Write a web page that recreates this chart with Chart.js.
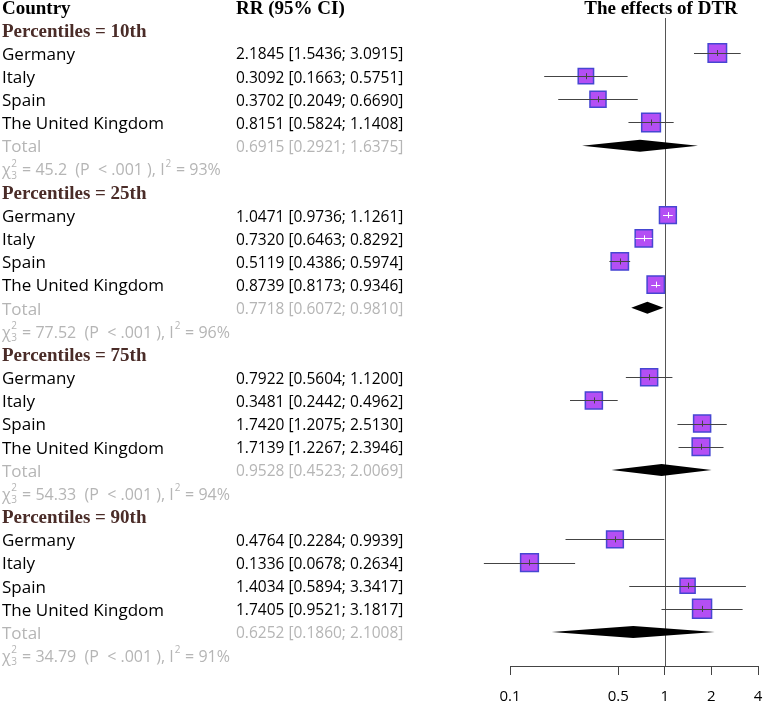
<!DOCTYPE html>
<html>
<head>
<meta charset="utf-8">
<script src="https://cdn.jsdelivr.net/npm/chart.js@4.4.1/dist/chart.umd.min.js"></script>
<style>
  html, body { margin: 0; padding: 0; background: #fff; }
  #wrap { width: 764px; height: 702px; position: relative; }
</style>
</head>
<body>
<div id="wrap"><canvas id="forestChart"></canvas></div>
<script>
const countries = ['Germany', 'Italy', 'Spain', 'The United Kingdom'];
const groups = ['Percentiles = 10th', 'Percentiles = 25th', 'Percentiles = 75th', 'Percentiles = 90th'];

// RR, lower and upper 95% CI, weight (%) per country, one set per percentile
const rr_10 = [2.1845, 0.3092, 0.3702, 0.8151];
const lower_10 = [1.5436, 0.1663, 0.2049, 0.5824];
const upper_10 = [3.0915, 0.5751, 0.6690, 1.1408];
const weight_10 = [28.7, 19.9, 21.8, 29.6];

const rr_25 = [1.0471, 0.7320, 0.5119, 0.8739];
const lower_25 = [0.9736, 0.6463, 0.4386, 0.8173];
const upper_25 = [1.1261, 0.8292, 0.5974, 0.9346];
const weight_25 = [24.0, 25.3, 25.3, 25.3];

const rr_75 = [0.7922, 0.3481, 1.7420, 1.7139];
const lower_75 = [0.5604, 0.2442, 1.2075, 1.2267];
const upper_75 = [1.1200, 0.4962, 2.5130, 2.3946];
const weight_75 = [24.5, 24.5, 24.5, 26.5];

const rr_90 = [0.4764, 0.1336, 1.4034, 1.7405];
const lower_90 = [0.2284, 0.0678, 0.5894, 0.9521];
const upper_90 = [0.9939, 0.2634, 3.3417, 3.1817];
const weight_90 = [23.7, 26.6, 19.2, 30.5];

const total_rr = [0.6915, 0.7718, 0.9528, 0.6252];
const total_lower = [0.2921, 0.6072, 0.4523, 0.1860];
const total_upper = [1.6375, 0.9810, 2.0069, 2.1008];
const chi2 = ['45.2', '77.52', '54.33', '34.79'];
const i2 = [93, 96, 94, 91];

const xTicks = [0.1, 0.5, 1, 2, 4];

const groupData = [
    [rr_10, lower_10, upper_10, weight_10],
    [rr_25, lower_25, upper_25, weight_25],
    [rr_75, lower_75, upper_75, weight_75],
    [rr_90, lower_90, upper_90, weight_90],
];

const fmt = v => v.toFixed(4);

// one entry per text line, row index = position on the y scale
const rows = [{ type: 'header' }];
groups.forEach((g, gi) => {
    const [rr, lo, hi, w] = groupData[gi];
    rows.push({ type: 'group', text: g });
    countries.forEach((c, ci) => {
        rows.push({ type: 'study', text: c, est: rr[ci], lo: lo[ci], hi: hi[ci], w: w[ci] });
    });
    rows.push({ type: 'total', text: 'Total', est: total_rr[gi], lo: total_lower[gi], hi: total_upper[gi] });
    rows.push({ type: 'het', chi: chi2[gi], i2: i2[gi] });
});

const studyPoints = [];
rows.forEach((r, i) => {
    if (r.type === 'study') studyPoints.push({ x: r.est, y: i, lo: r.lo, hi: r.hi, w: r.w });
});
const boxSide = w => 3.44 * Math.sqrt(w);

const SERIF_B = 'bold 19px "Liberation Serif", "Times New Roman", serif';
const SANS = '17px "Open Sans", "Noto Sans", sans-serif';
const NUM = '15.5px "Open Sans", "Noto Sans", sans-serif';
const HET = '16px "Open Sans", "Noto Sans", sans-serif';
const SMALL = '10px "Open Sans", "Noto Sans", sans-serif';
const GREY = '#b5b5b5';

const forestPlugin = {
    id: 'forest',
    beforeDatasetsDraw(chart) {
        const { ctx, scales: { x }, chartArea } = chart;
        const px = x.getPixelForValue(1);
        ctx.save();
        ctx.strokeStyle = '#555';
        ctx.lineWidth = 1;
        ctx.beginPath();
        ctx.moveTo(Math.round(px) + 0.5, 18);
        ctx.lineTo(Math.round(px) + 0.5, chartArea.bottom);
        ctx.stroke();
        ctx.restore();
    },
    afterDatasetsDraw(chart) {
        const { ctx, scales: { x, y } } = chart;
        ctx.save();
        ctx.lineWidth = 1;
        rows.forEach((r, i) => {
            const py = y.getPixelForValue(i);
            if (r.type === 'study') {
                const pe = x.getPixelForValue(r.est);
                const pl = x.getPixelForValue(r.lo);
                const ph = x.getPixelForValue(r.hi);
                const half = boxSide(r.w) / 2;
                const inside = pl > pe - half && ph < pe + half;
                ctx.strokeStyle = inside ? '#ffffff' : '#444444';
                ctx.beginPath();
                ctx.moveTo(pl, Math.round(py) + 0.5);
                ctx.lineTo(ph, Math.round(py) + 0.5);
                ctx.moveTo(Math.round(pe) + 0.5, py - 3);
                ctx.lineTo(Math.round(pe) + 0.5, py + 3);
                ctx.stroke();
            } else if (r.type === 'total') {
                const pe = x.getPixelForValue(r.est);
                const pl = x.getPixelForValue(r.lo);
                const ph = x.getPixelForValue(r.hi);
                ctx.fillStyle = '#000000';
                ctx.beginPath();
                ctx.moveTo(pl, py);
                ctx.lineTo(pe, py - 6);
                ctx.lineTo(ph, py);
                ctx.lineTo(pe, py + 6);
                ctx.closePath();
                ctx.fill();
            }
        });
        ctx.restore();
    },
    afterDraw(chart) {
        const { ctx, scales: { y } } = chart;
        ctx.save();
        ctx.textBaseline = 'middle';
        ctx.textAlign = 'left';
        rows.forEach((r, i) => {
            const py = y.getPixelForValue(i) + 2;
            if (r.type === 'header') {
                ctx.font = SERIF_B;
                ctx.fillStyle = '#000';
                ctx.fillText('Country', 2, py);
                ctx.fillText('RR (95% CI)', 236, py);
                ctx.textAlign = 'center';
                ctx.fillText('The effects of DTR', 661, py);
                ctx.textAlign = 'left';
            } else if (r.type === 'group') {
                ctx.font = SERIF_B;
                ctx.fillStyle = '#4a2c28';
                ctx.fillText(r.text, 2, py);
            } else if (r.type === 'study' || r.type === 'total') {
                ctx.fillStyle = r.type === 'total' ? GREY : '#000';
                ctx.font = SANS;
                ctx.fillText(r.text, 2, py);
                ctx.font = NUM;
                ctx.fillText(fmt(r.est) + ' [' + fmt(r.lo) + '; ' + fmt(r.hi) + ']', 236, py);
            } else if (r.type === 'het') {
                ctx.fillStyle = GREY;
                ctx.font = HET;
                let cx = 2;
                ctx.fillText('\u03C7', cx, py);
                cx += ctx.measureText('\u03C7').width;
                ctx.font = SMALL;
                ctx.fillText('2', cx + 0.5, py - 7);
                ctx.fillText('3', cx + 0.5, py + 5);
                cx += ctx.measureText('2').width + 1.5;
                ctx.font = HET;
                const mid = ' = ' + r.chi + '  (P  < .001 ), I';
                ctx.fillText(mid, cx, py);
                cx += ctx.measureText(mid).width;
                ctx.font = SMALL;
                ctx.fillText('2', cx + 1, py - 7);
                cx += ctx.measureText('2').width + 1.5;
                ctx.font = HET;
                ctx.fillText(' = ' + r.i2 + '%', cx, py);
            }
        });
        ctx.restore();
    }
};

const forest_config = {
    type: 'scatter',
    data: {
        datasets: [{
            label: 'RR',
            data: studyPoints,
            pointStyle: 'rect',
            pointRadius: studyPoints.map(p => boxSide(p.w) / (2 * Math.SQRT1_2)),
            pointHoverRadius: studyPoints.map(p => boxSide(p.w) / (2 * Math.SQRT1_2)),
            backgroundColor: '#b44ff4',
            borderColor: '#4646d2',
            borderWidth: 1.5,
        }]
    },
    options: {
        responsive: true,
        maintainAspectRatio: false,
        animation: false,
        layout: { autoPadding: false, padding: { left: 510, right: 6, top: 0, bottom: 0 } },
        plugins: {
            legend: { display: false },
            tooltip: { enabled: false },
        },
        scales: {
            x: {
                type: 'logarithmic',
                position: 'bottom',
                min: 0.1,
                max: 4,
                afterBuildTicks: scale => { scale.ticks = xTicks.map(v => ({ value: v })); },
                afterFit: scale => {
                    scale.height = 36;
                    scale.paddingLeft = 0;
                    scale.paddingRight = 0;
                },
                grid: { drawOnChartArea: false, drawTicks: true, tickLength: 9, color: '#444' },
                border: { display: true, color: '#444', width: 1 },
                ticks: {
                    autoSkip: false,
                    maxRotation: 0,
                    padding: 13,
                    color: '#000',
                    font: { family: '"Open Sans", "Noto Sans", sans-serif', size: 15 },
                    callback: v => String(v),
                },
            },
            y: {
                type: 'linear',
                reverse: true,
                min: -0.289,
                max: 28.467,
                display: false,
            }
        }
    },
    plugins: [forestPlugin],
};

new Chart(document.getElementById('forestChart'), forest_config);
</script>
</body>
</html>
